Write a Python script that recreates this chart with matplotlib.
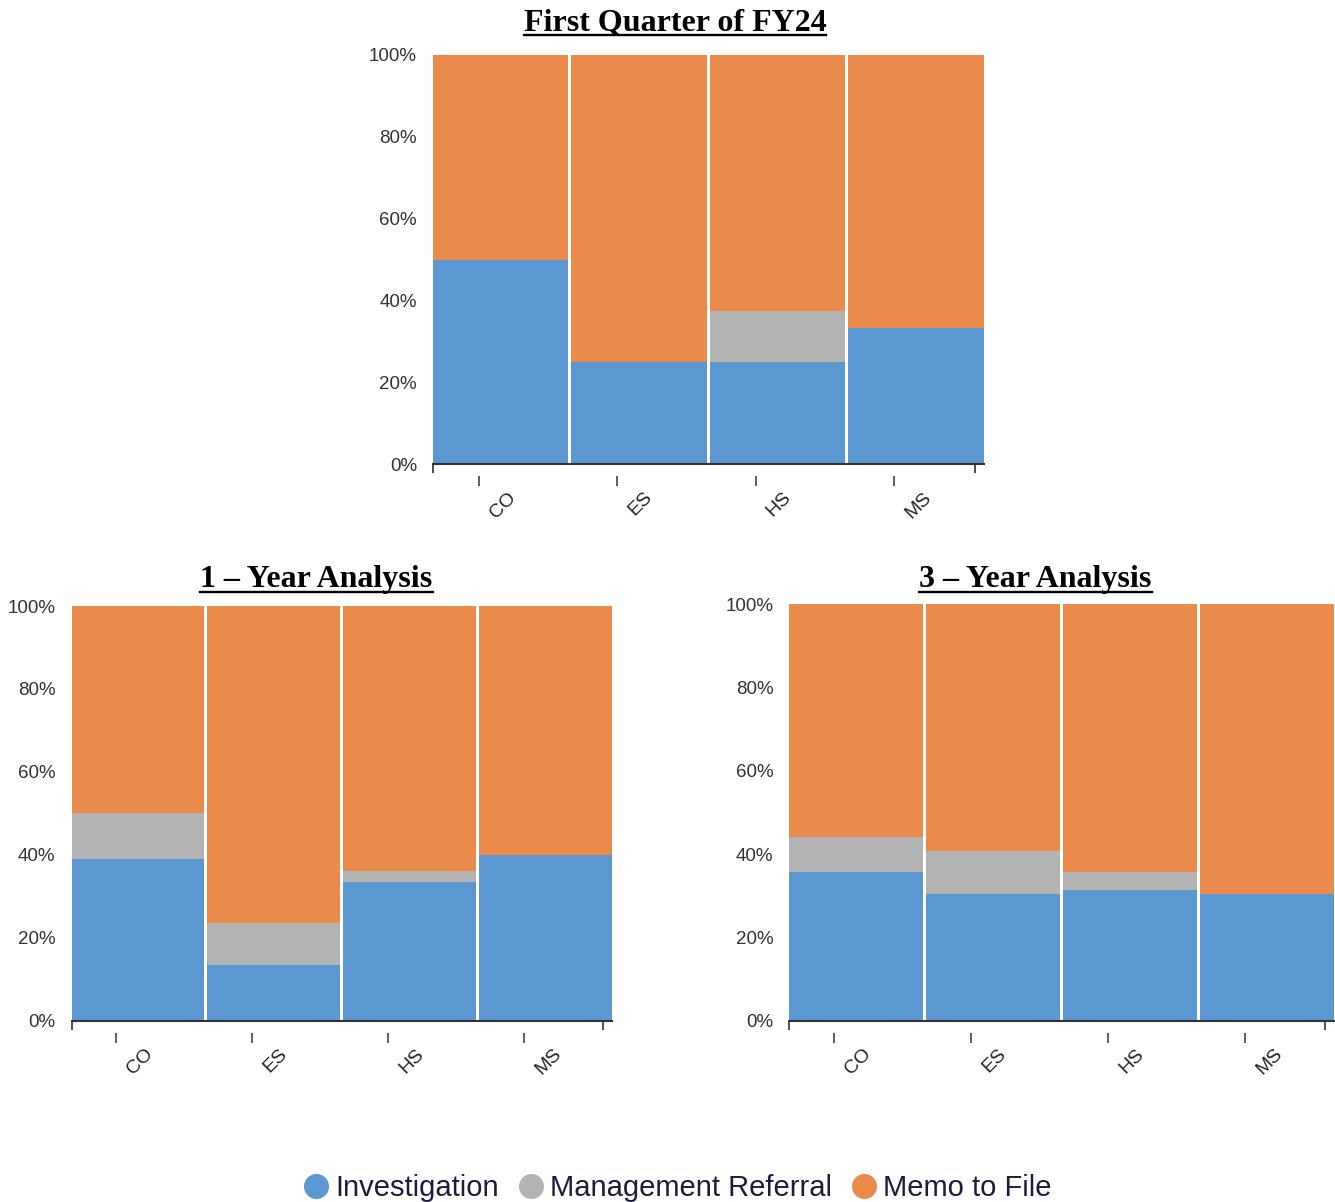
import matplotlib
matplotlib.use("Agg")
import matplotlib.pyplot as plt
import numpy as np
from matplotlib.lines import Line2D
from matplotlib.transforms import ScaledTranslation

categories = ["CO", "ES", "HS", "MS"]

# percent shares per category: Investigation / Management Referral / Memo to File
q1_inv = [50.0, 25.0, 25.0, 33.3]
q1_mgmt = [0.0, 0.0, 12.5, 0.0]
q1_memo = [50.0, 75.0, 62.5, 66.7]

y1_inv = [39.0, 13.4, 33.4, 40.0]
y1_mgmt = [11.0, 10.2, 2.8, 0.0]
y1_memo = [50.0, 76.4, 63.8, 60.0]

y3_inv = [35.8, 30.3, 31.3, 30.4]
y3_mgmt = [8.2, 10.4, 4.5, 0.0]
y3_memo = [56.0, 59.3, 64.2, 69.6]

series_names = ["Investigation", "Management Referral", "Memo to File"]
colors = ["#5b97d1", "#b3b3b3", "#ea8b4c"]

W, H = 1335, 1202
fig = plt.figure(figsize=(W / 100, H / 100), dpi=100)

panels = [
    ("First Quarter of FY24", [0.3243, 0.6136, 0.4127, 0.3407], (q1_inv, q1_mgmt, q1_memo), (0.5056, 0.9745)),
    ("1 \u2013 Year Analysis", [0.0536, 0.1508, 0.4049, 0.3450], (y1_inv, y1_mgmt, y1_memo), (0.2371, 0.5115)),
    ("3 \u2013 Year Analysis", [0.5912, 0.1508, 0.4080, 0.3467], (y3_inv, y3_mgmt, y3_memo), (0.7757, 0.5115)),
]

axis_color = "#333333"
bar_w = 0.978
x = np.arange(len(categories))
titles = []

for title, rect, data, tpos in panels:
    ax = fig.add_axes(rect)
    bottom = np.zeros(len(categories))
    for vals, col in zip(data, colors):
        vals = np.array(vals)
        ax.bar(x, vals, bottom=bottom, width=bar_w, color=col, linewidth=0)
        bottom += vals

    xmin, xmax = -bar_w / 2, len(categories) - 1 + bar_w / 2
    ax.set_xlim(xmin, xmax)
    ax.set_ylim(0, 100)

    for s in ["top", "right", "left"]:
        ax.spines[s].set_visible(False)
    ax.spines["bottom"].set_color(axis_color)
    ax.spines["bottom"].set_linewidth(1.5)

    ax.set_yticks([0, 20, 40, 60, 80, 100])
    ax.set_yticklabels([f"{v}%" for v in [0, 20, 40, 60, 80, 100]])
    ax.tick_params(axis="y", length=0, pad=11.5, labelsize=13.5, labelcolor=axis_color)
    for lab in ax.get_yticklabels():
        lab.set_fontfamily("Liberation Sans")

    # end ticks on the axis line
    ax.set_xticks([xmin, xmax - 0.065])
    ax.set_xticklabels(["", ""])
    ax.tick_params(axis="x", direction="out", length=6.5, width=1.2, color=axis_color)

    # detached category ticks with rotated labels
    sec = ax.secondary_xaxis(-0.029)
    sec.spines["bottom"].set_visible(False)
    sec.set_xticks(x - 0.16)
    sec.set_xticklabels(categories, rotation=45, ha="left", fontsize=14,
                        color="#222222", fontfamily="Liberation Sans")
    sec.tick_params(axis="x", direction="out", length=7, width=1.1, color=axis_color, pad=2)
    for lab in sec.get_xticklabels():
        lab.set_transform(lab.get_transform() + ScaledTranslation(0.08, 0, fig.dpi_scale_trans))

    t = fig.text(tpos[0], tpos[1], title, ha="center", va="baseline", fontsize=23,
                 fontweight="bold", family=["Liberation Serif", "DejaVu Serif"], color="black")
    titles.append(t)

# underline the titles
fig.canvas.draw()
for t in titles:
    bb = t.get_window_extent()
    yb = t.get_position()[1] - 4.5 / H
    fig.add_artist(Line2D([bb.x0 / W, bb.x1 / W], [yb, yb], transform=fig.transFigure,
                          color="black", linewidth=1.7))

handles = [Line2D([], [], marker="o", linestyle="none", markersize=17,
                  markerfacecolor=c, markeredgecolor=c) for c in colors]
leg = fig.legend(handles, series_names, loc="center", bbox_to_anchor=(0.508, 0.0115),
                 ncol=3, frameon=False, fontsize=21, handlelength=0.8,
                 handletextpad=0.25, columnspacing=0.7, borderaxespad=0)
for txt in leg.get_texts():
    txt.set_color("#1c1c3c")
    txt.set_fontfamily("Liberation Sans")

fig.savefig("out.png", dpi=100)
